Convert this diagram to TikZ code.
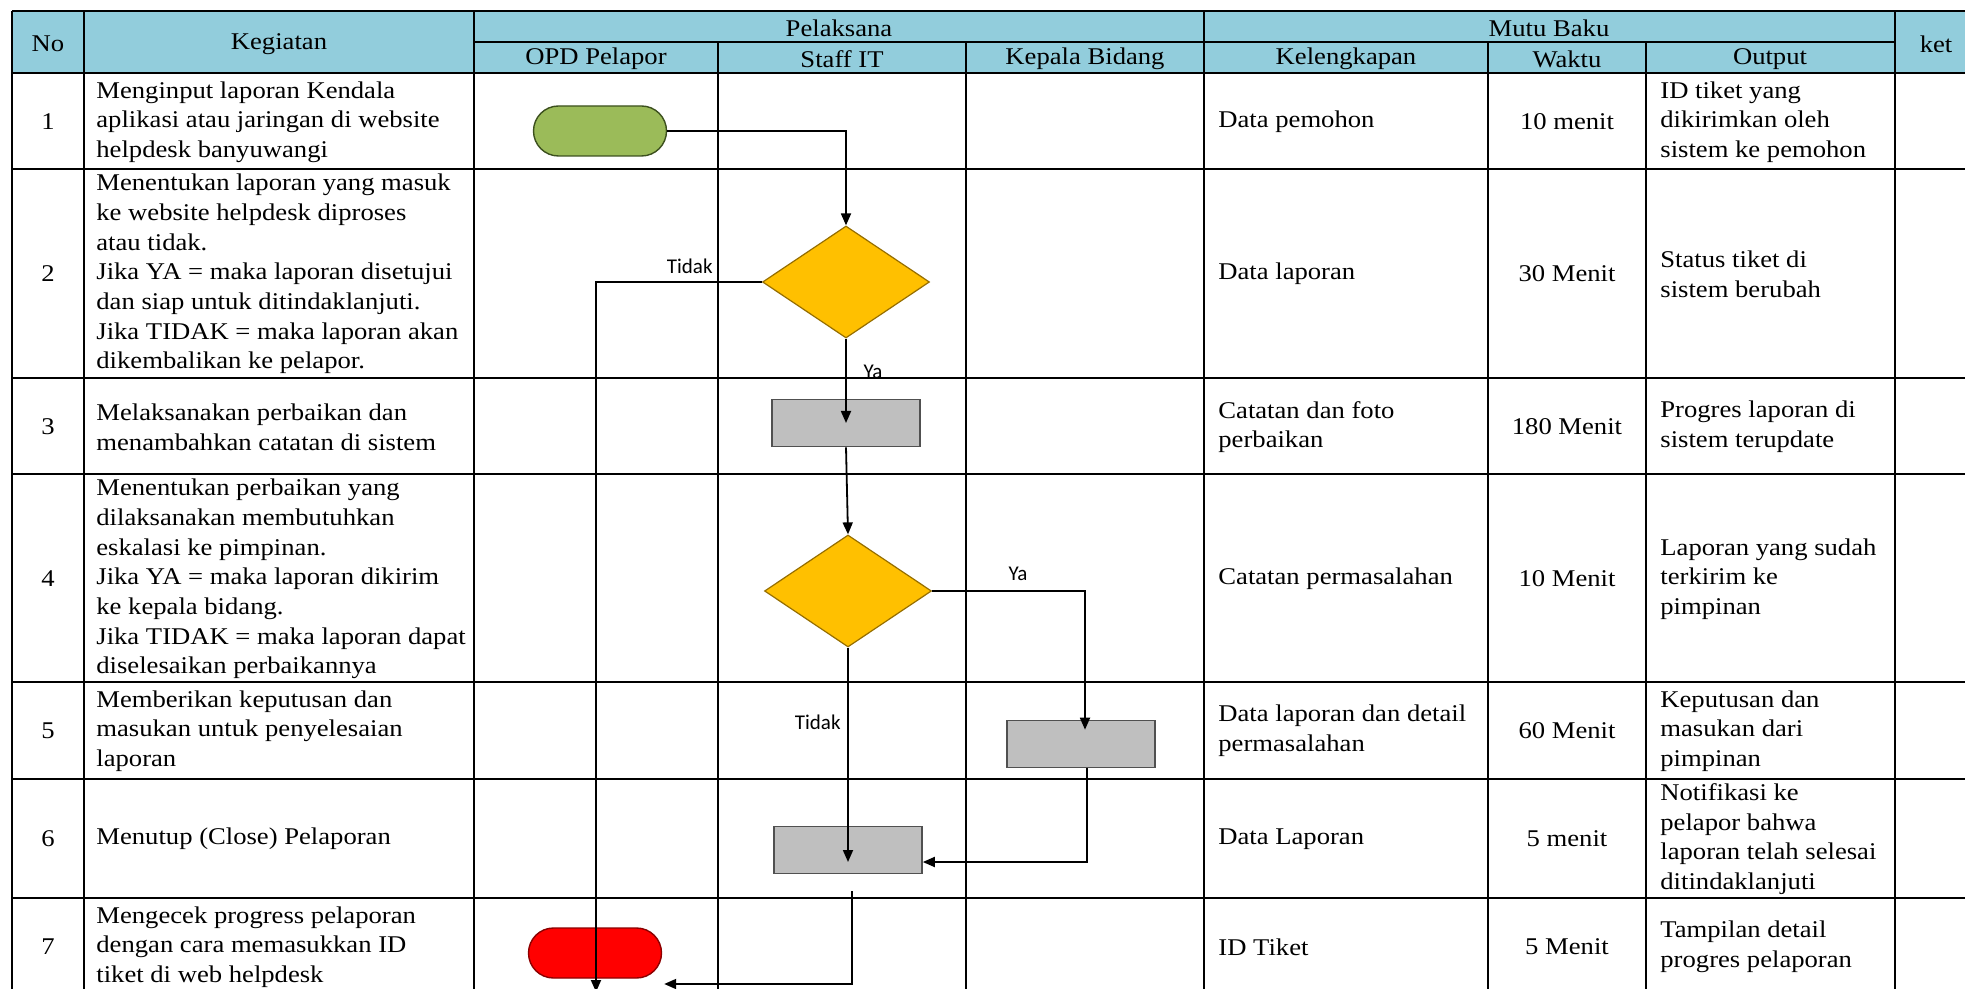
\documentclass[tikz,border=0pt]{standalone}
\usepackage{fontspec}
\setmainfont{Liberation Serif}[FakeStretch=1.11]
\newfontfamily\lblfont{Carlito}
\usetikzlibrary{arrows.meta,shapes.geometric,calc}
\definecolor{hdr}{RGB}{146,205,220}
\definecolor{termgreen}{RGB}{155,187,89}
\definecolor{termgreenline}{RGB}{60,80,30}
\definecolor{termred}{RGB}{255,0,0}
\definecolor{termredline}{RGB}{140,0,0}
\definecolor{decfill}{RGB}{255,192,0}
\definecolor{decline}{RGB}{150,110,0}
\definecolor{procfill}{RGB}{191,191,191}
\definecolor{procline}{RGB}{80,80,80}
\begin{document}
\begin{tikzpicture}[x=0.5pt,y=-0.5pt,
  grid/.style={line width=0.9pt,draw=black},
  txt/.style={font=\fontsize{12}{14.85}\selectfont,inner sep=0pt},
  lt/.style={txt,anchor=west,align=left},
  ct/.style={txt,anchor=center,align=center},
  lbl/.style={font=\lblfont\fontsize{10.5}{12}\selectfont,inner sep=0pt},
  term/.style={rectangle,rounded corners=12.5pt,minimum width=66.5pt,minimum height=25pt,inner sep=0pt,line width=0.7pt},
  dec/.style={diamond,minimum width=83.5pt,minimum height=56pt,inner sep=0pt,fill=decfill,draw=decline,line width=0.6pt},
  proc/.style={rectangle,minimum width=74pt,minimum height=23.5pt,inner sep=0pt,fill=procfill,draw=procline,line width=0.8pt},
  flow/.style={line width=0.9pt,-{Triangle[length=6pt,width=5pt]}}
]
\useasboundingbox (0,0) rectangle (1965,989);
\begin{scope}
\clip (0,0) rectangle (1965,989);
% header background
\fill[hdr] (12,11) rectangle (1978,73);
% grid
\draw[grid] (12,11) -- (1978,11);
\draw[grid] (474,42) -- (1895,42);
\foreach \y in {73,169,378,474,682,779,898} \draw[grid] (12,\y) -- (1978,\y);
\foreach \x in {12,84,474,1204,1895,1978} \draw[grid] (\x,11) -- (\x,1000);
\foreach \x in {718,966,1488,1646} \draw[grid] (\x,42) -- (\x,1000);

% header texts
\node[ct] (hNo) at (48,44) {No};
\node[ct] (hKeg) at (279,44) {Kegiatan};
\node[ct] (hPel) at (839,28) {Pelaksana};
\node[ct] (hOPD) at (596,59) {OPD Pelapor};
\node[ct] (hStaff) at (842,59) {Staff IT};
\node[ct] (hKabid) at (1085,59) {Kepala Bidang};
\node[ct] (hMutu) at (1549,28) {Mutu Baku};
\node[ct] (hKel) at (1346,59) {Kelengkapan};
\node[ct] (hWak) at (1567,59) {Waktu};
\node[ct] (hOut) at (1770,59) {Output};
\node[ct] (hKet) at (1936,44) {ket};

% row 1
\node[ct] (n1) at (48,122) {1};
\node[lt] (k1) at (96,122) {Menginput laporan Kendala\\aplikasi atau jaringan di website\\helpdesk banyuwangi};
\node[lt] (l1) at (1218,122) {Data pemohon};
\node[ct] (w1) at (1567,122) {10 menit};
\node[lt] (o1) at (1660,122) {ID tiket yang\\dikirimkan oleh\\sistem ke pemohon};
% row 2
\node[ct] (n2) at (48,274) {2};
\node[lt] (k2) at (96,274) {Menentukan laporan yang masuk\\ke website helpdesk diproses\\atau tidak.\\Jika YA = maka laporan disetujui\\dan siap untuk ditindaklanjuti.\\Jika TIDAK = maka laporan akan\\dikembalikan ke pelapor.};
\node[lt] (l2) at (1218,274) {Data laporan};
\node[ct] (w2) at (1567,274) {30 Menit};
\node[lt] (o2) at (1660,274) {Status tiket di\\sistem berubah};
% row 3
\node[ct] (n3) at (48,427) {3};
\node[lt] (k3) at (96,427) {Melaksanakan perbaikan dan\\menambahkan catatan di sistem};
\node[lt] (l3) at (1218,427) {Catatan dan foto\\perbaikan};
\node[ct] (w3) at (1567,427) {180 Menit};
\node[lt] (o3) at (1660,427) {Progres laporan di\\sistem terupdate};
% row 4
\node[ct] (n4) at (48,579) {4};
\node[lt] (k4) at (96,579) {Menentukan perbaikan yang\\dilaksanakan membutuhkan\\eskalasi ke pimpinan.\\Jika YA = maka laporan dikirim\\ke kepala bidang.\\Jika TIDAK = maka laporan dapat\\diselesaikan perbaikannya};
\node[lt] (l4) at (1218,579) {Catatan permasalahan};
\node[ct] (w4) at (1567,579) {10 Menit};
\node[lt] (o4) at (1660,579) {Laporan yang sudah\\terkirim ke\\pimpinan};
% row 5
\node[ct] (n5) at (48,731) {5};
\node[lt] (k5) at (96,731) {Memberikan keputusan dan\\masukan untuk penyelesaian\\laporan};
\node[lt] (l5) at (1218,731) {Data laporan dan detail\\permasalahan};
\node[ct] (w5) at (1567,731) {60 Menit};
\node[lt] (o5) at (1660,731) {Keputusan dan\\masukan dari\\pimpinan};
% row 6
\node[ct] (n6) at (48,839) {6};
\node[lt] (k6) at (96,839) {Menutup (Close) Pelaporan};
\node[lt] (l6) at (1218,839) {Data Laporan};
\node[ct] (w6) at (1567,839) {5 menit};
\node[lt] (o6) at (1660,839) {Notifikasi ke\\pelapor bahwa\\laporan telah selesai\\ditindaklanjuti};
% row 7
\node[ct] (n7) at (48,947) {7};
\node[lt] (k7) at (96,947) {Mengecek progress pelaporan\\dengan cara memasukkan ID\\tiket di web helpdesk};
\node[lt] (l7) at (1218,947) {ID Tiket};
\node[ct] (w7) at (1567,947) {5 Menit};
\node[lt] (o7) at (1660,947) {Tampilan detail\\progres pelaporan};

% flow shapes
\node[term,fill=termgreen,draw=termgreenline] (t1) at (600,131) {};
\node[dec] (d1) at (846,282) {};
\node[proc] (b1) at (846,423) {};
\node[dec] (d2) at (848,591) {};
\node[proc] (b2) at (1081,744) {};
\node[proc] (b3) at (848,850) {};
\node[term,fill=termred,draw=termredline] (t2) at (595,953) {};
\coordinate (tEnd) at (596,992);

% connectors
\draw[flow] (t1.east) -| (d1.north);
\draw[flow] (d1.west) -| (tEnd);
\draw[flow] (d1.south) -- (b1.center);
\draw[flow] (b1.south) -- (d2.north);
\draw[flow] (d2.east) -| ($(b2.north)+(4,10)$);
\draw[flow] (d2.south) -- ($(b3.center)+(0,12)$);
\draw[flow] ($(b2.south)+(6,0)$) |- ($(b3.east)+(0,12)$);
\draw[flow] ($(b3.south)+(4,17)$) |- ($(t2.east)+(2,31)$);

% labels
\node[lbl,anchor=east] (tidak1) at (713,266) {Tidak};
\node[lbl] (ya1) at (873,372) {Ya};
\node[lbl] (ya2) at (1018,574) {Ya};
\node[lbl,anchor=east] (tidak2) at (841,722) {Tidak};
\end{scope}
\end{tikzpicture}
\end{document}
